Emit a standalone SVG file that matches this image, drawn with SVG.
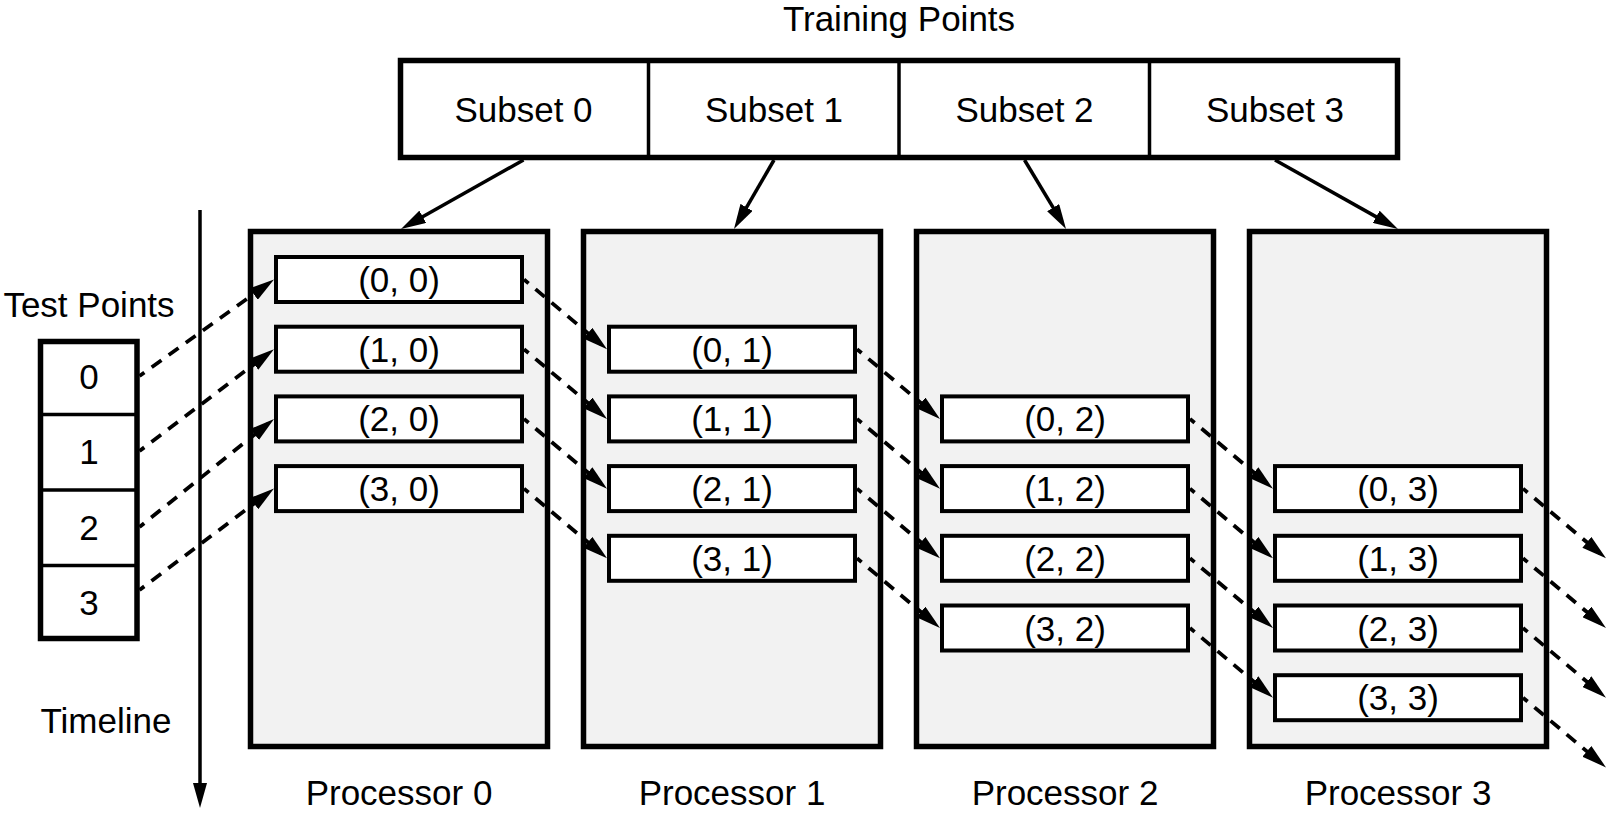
<svg xmlns="http://www.w3.org/2000/svg" width="1607" height="818" viewBox="0 0 1607 818">
<style>
text{font-family:"Liberation Sans",Arial,sans-serif;font-size:35px;fill:#000;text-anchor:middle}
.proc{fill:#f2f2f2;stroke:#000;stroke-width:5.5}
.cell{fill:#fff;stroke:#000;stroke-width:4}
.outer{fill:#fff;stroke:#000;stroke-width:5.5}
.div{stroke:#000;stroke-width:3.5}
.solid{fill:none;stroke:#000;stroke-width:3.5;marker-end:url(#ah)}
.dash{fill:none;stroke:#000;stroke-width:3.8;stroke-dasharray:12 9;stroke-dashoffset:6;marker-end:url(#ah)}
</style>
<defs>
<marker id="ah" markerUnits="userSpaceOnUse" markerWidth="25" markerHeight="14" refX="17" refY="7" orient="auto">
<path d="M0,0 L25,7 L0,14 z" fill="#000"/>
</marker>
</defs>
<rect width="1607" height="818" fill="#fff"/>

<g id="training">
<text x="899" y="31">Training Points</text>
<rect class="outer" x="400.5" y="60.5" width="997" height="97"/>
<line class="div" x1="648.5" y1="60.5" x2="648.5" y2="157.5"/>
<line class="div" x1="899" y1="60.5" x2="899" y2="157.5"/>
<line class="div" x1="1149.5" y1="60.5" x2="1149.5" y2="157.5"/>
<text x="523.5" y="122">Subset 0</text>
<text x="774" y="122">Subset 1</text>
<text x="1024.5" y="122">Subset 2</text>
<text x="1275" y="122">Subset 3</text>
</g>

<g id="testpoints">
<text x="89" y="317">Test Points</text>
<rect class="outer" x="40.5" y="341.5" width="96.5" height="297"/>
<line class="div" x1="40.5" y1="414.5" x2="137" y2="414.5"/>
<line class="div" x1="40.5" y1="490" x2="137" y2="490"/>
<line class="div" x1="40.5" y1="565.5" x2="137" y2="565.5"/>
<text x="89" y="389">0</text>
<text x="89" y="464">1</text>
<text x="89" y="540">2</text>
<text x="89" y="615">3</text>
</g>

<g id="timeline">
<text x="106" y="733">Timeline</text>
<line class="solid" x1="200" y1="210" x2="200" y2="800"/>
</g>

<g id="processor0">
<rect class="proc" x="250.5" y="231.5" width="297" height="515"/>
<text x="399" y="805">Processor 0</text>
<rect class="cell" x="276" y="257" width="246" height="45"/><text x="399" y="292">(0, 0)</text>
<rect class="cell" x="276" y="326.7" width="246" height="45"/><text x="399" y="361.7">(1, 0)</text>
<rect class="cell" x="276" y="396.4" width="246" height="45"/><text x="399" y="431.4">(2, 0)</text>
<rect class="cell" x="276" y="466.1" width="246" height="45"/><text x="399" y="501.1">(3, 0)</text>
</g>

<g id="processor1">
<rect class="proc" x="583.5" y="231.5" width="297" height="515"/>
<text x="732" y="805">Processor 1</text>
<rect class="cell" x="609" y="326.7" width="246" height="45"/><text x="732" y="361.7">(0, 1)</text>
<rect class="cell" x="609" y="396.4" width="246" height="45"/><text x="732" y="431.4">(1, 1)</text>
<rect class="cell" x="609" y="466.1" width="246" height="45"/><text x="732" y="501.1">(2, 1)</text>
<rect class="cell" x="609" y="535.8" width="246" height="45"/><text x="732" y="570.8">(3, 1)</text>
</g>

<g id="processor2">
<rect class="proc" x="916.5" y="231.5" width="297" height="515"/>
<text x="1065" y="805">Processor 2</text>
<rect class="cell" x="942" y="396.4" width="246" height="45"/><text x="1065" y="431.4">(0, 2)</text>
<rect class="cell" x="942" y="466.1" width="246" height="45"/><text x="1065" y="501.1">(1, 2)</text>
<rect class="cell" x="942" y="535.8" width="246" height="45"/><text x="1065" y="570.8">(2, 2)</text>
<rect class="cell" x="942" y="605.5" width="246" height="45"/><text x="1065" y="640.5">(3, 2)</text>
</g>

<g id="processor3">
<rect class="proc" x="1249.5" y="231.5" width="297" height="515"/>
<text x="1398" y="805">Processor 3</text>
<rect class="cell" x="1275" y="466.1" width="246" height="45"/><text x="1398" y="501.1">(0, 3)</text>
<rect class="cell" x="1275" y="535.8" width="246" height="45"/><text x="1398" y="570.8">(1, 3)</text>
<rect class="cell" x="1275" y="605.5" width="246" height="45"/><text x="1398" y="640.5">(2, 3)</text>
<rect class="cell" x="1275" y="675.2" width="246" height="45"/><text x="1398" y="710.2">(3, 3)</text>
</g>

<g id="connectors">
<line class="solid" x1="523.5" y1="160" x2="408" y2="225.1"/>
<line class="solid" x1="774" y1="160" x2="738" y2="222.1"/>
<line class="solid" x1="1024.5" y1="160" x2="1061.9" y2="222.2"/>
<line class="solid" x1="1275" y1="160" x2="1391" y2="225.1"/>

<line class="dash" x1="139.5" y1="376" x2="267.5" y2="284.2"/>
<line class="dash" x1="139.5" y1="451" x2="267.6" y2="354"/>
<line class="dash" x1="139.5" y1="527" x2="267.8" y2="423.9"/>
<line class="dash" x1="139.5" y1="590" x2="267.6" y2="493.4"/>

<line class="dash" x1="524" y1="279.5" x2="600.9" y2="344.1"/>
<line class="dash" x1="524" y1="349.2" x2="600.9" y2="413.8"/>
<line class="dash" x1="524" y1="418.9" x2="600.9" y2="483.5"/>
<line class="dash" x1="524" y1="488.6" x2="600.9" y2="553.2"/>

<line class="dash" x1="857" y1="349.2" x2="933.9" y2="413.8"/>
<line class="dash" x1="857" y1="418.9" x2="933.9" y2="483.5"/>
<line class="dash" x1="857" y1="488.6" x2="933.9" y2="553.2"/>
<line class="dash" x1="857" y1="558.3" x2="933.9" y2="622.9"/>

<line class="dash" x1="1190" y1="418.9" x2="1266.9" y2="483.5"/>
<line class="dash" x1="1190" y1="488.6" x2="1266.9" y2="553.2"/>
<line class="dash" x1="1190" y1="558.3" x2="1266.9" y2="622.9"/>
<line class="dash" x1="1190" y1="628" x2="1266.9" y2="692.6"/>

<line class="dash" x1="1523" y1="488.6" x2="1599.9" y2="553.2"/>
<line class="dash" x1="1523" y1="558.3" x2="1599.9" y2="622.9"/>
<line class="dash" x1="1523" y1="628" x2="1599.9" y2="692.6"/>
<line class="dash" x1="1523" y1="697.7" x2="1599.9" y2="762.3"/>
</g>
</svg>
